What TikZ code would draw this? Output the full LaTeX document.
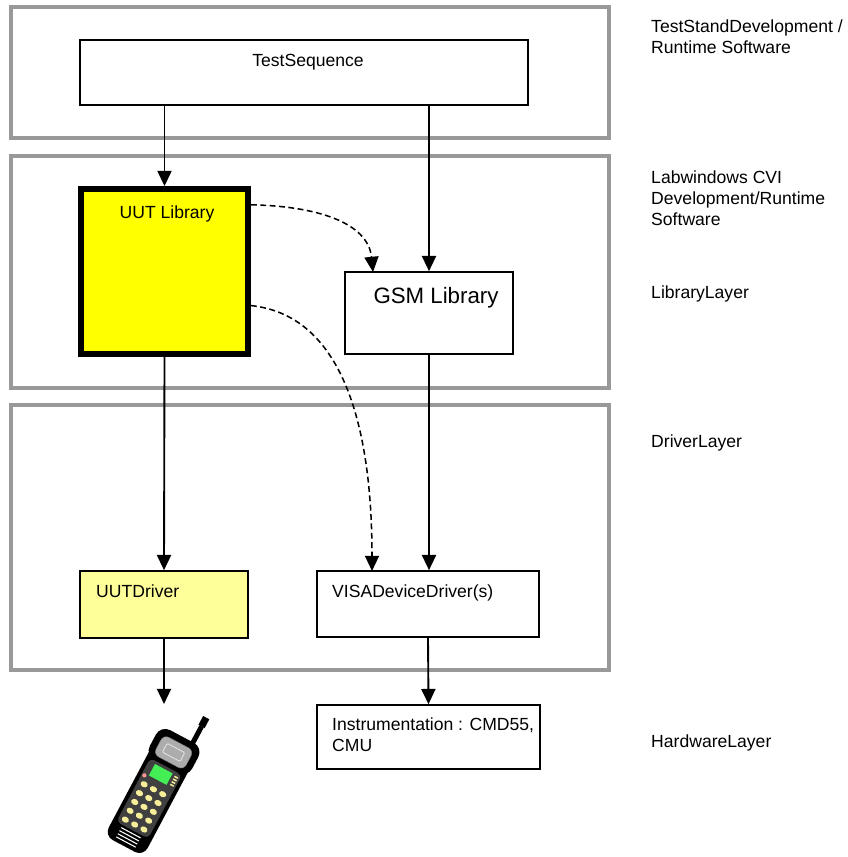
\documentclass[tikz,border=0pt]{standalone}
\usepackage{fontspec}
\setmainfont{Liberation Sans}
\usetikzlibrary{arrows.meta,positioning,fit}

\definecolor{framegray}{HTML}{999999}
\definecolor{libyellow}{HTML}{FFFF00}
\definecolor{drvyellow}{HTML}{FFFF99}
\definecolor{lcdgreen}{HTML}{44EE55}
\definecolor{keyyellow}{HTML}{F6EE99}

\begin{document}
\begin{tikzpicture}[
  x=0.3mm, y=-0.3mm,
  layer/.style={draw=framegray, line width=2.8pt, inner sep=0pt},
  box/.style={draw, line width=1.4pt, inner sep=0pt, fill=white},
  txt/.style={inner sep=0pt, font=\fontsize{15}{18}\selectfont, align=left},
  arr/.style={-{Triangle[length=13pt, width=12pt]}, line width=1.6pt},
  dsh/.style={arr, line width=1.3pt, dash pattern=on 5pt off 3pt}]
  \useasboundingbox (0,0) rectangle (847,857);

  % layer frames
  \node[layer, fit={(11,7) (609,138)}] (tslayer) {};
  \node[layer, fit={(11,156) (609,388)}] (liblayer) {};
  \node[layer, fit={(11,405) (609,670)}] (drvlayer) {};

  % software / driver boxes
  \node[box, fit={(80,40) (528,105)}] (tseq) {};
  \node[box, fit={(81,189) (248,354)}, fill=libyellow, line width=5pt] (uutlib) {};
  \node[box, fit={(345,272) (513,354)}] (gsm) {};
  \node[box, fit={(80,571) (248,638)}, fill=drvyellow] (uutdrv) {};
  \node[box, fit={(317,571) (539,637)}] (visa) {};
  \node[box, fit={(317,705) (540,769)}] (instr) {};

  \node[txt, anchor=base] (tseqlbl) at (308,67) {TestSequence};
  \node[txt, anchor=base] (uutliblbl) at (167,218) {UUT Library};
  \node[txt, anchor=base, font=\fontsize{19}{22}\selectfont] (gsmlbl) at (436,303) {GSM Library};
  \node[txt, anchor=base west] (uutdrvlbl) at (96,597) {UUTDriver};
  \node[txt, anchor=base west] (visalbl) at (332,597) {VISADeviceDriver(s)};
  \node[txt, anchor=north west] (instrlbl) at (332,717.5) {Instrumentation : CMD55,\\CMU};

  % layer names on the right
  \node[txt, anchor=north west] (tsname) at (651,19.5) {TestStandDevelopment /\\Runtime Software};
  \node[txt, anchor=north west] (cviname) at (651,170.5) {Labwindows CVI\\Development/Runtime\\Software};
  \node[txt, anchor=north west] (libname) at (651,285.5) {LibraryLayer};
  \node[txt, anchor=north west] (drvname) at (651,434.5) {DriverLayer};
  \node[txt, anchor=north west] (hwname) at (651,734.5) {HardwareLayer};

  % calls
  \coordinate (gsmin) at (373,272);
  \coordinate (visain) at (372,571);
  \coordinate (phonetop) at (164,704);
  \draw[arr] (tseq.south -| uutlib.north) -- (uutlib.north);
  \draw[arr] (tseq.south -| gsm.north) -- (gsm.north);
  \draw[arr] (uutlib.south) -- (uutdrv.north);
  \draw[arr] (gsm.south) -- (gsm.south |- visa.north);
  \draw[arr] (uutdrv.south) -- (phonetop);
  \draw[arr] (visa.south) -- (instr.north);
  \draw[dsh] ([yshift=-16pt]uutlib.north east) .. controls (315,206) and (368,222) .. (gsmin);
  \draw[dsh] ([yshift=-102pt]uutlib.north east) .. controls (340,315) and (372,420) .. (visain);

  % handset
  \begin{scope}[shift={(152,793)}, rotate=-28]
    \fill (10,-58) rectangle (15,-82);
    \fill (9,-82) rectangle (16,-92);
    \fill[black, rounded corners=8pt] (-22,-62) rectangle (22,60);
    \fill[black, rounded corners=9pt] (-24,-64) rectangle (24,-30);
    \filldraw[fill=gray!65, draw=black!50, rounded corners=5pt] (-17,-57) rectangle (17,-35);
    \draw[white!85!gray, line width=0.6pt, rounded corners=1pt] (-10,-51) rectangle (10,-41);
    \fill[black!75, rounded corners=4pt] (-18,-30) rectangle (18,42);
    \fill[lcdgreen] (-11,-27) rectangle (9,-14);
    \fill[red!40] (-15,-12) circle[radius=1.8pt];
    \foreach \i in {0,...,3}
      \fill[keyyellow] (12,{-26+3*\i}) rectangle (16,{-24.5+3*\i});
    \foreach \r in {0,...,4}
      \foreach \c in {0,1,2}
        \fill[keyyellow] ({-11+10.5*\c},{-4+10*\r}) ellipse [x radius=3.2pt, y radius=2.5pt];
    \foreach \i in {0,...,3}
      \draw[white, line width=0.9pt] (-11,{45+3.5*\i}) -- (11,{45+3.5*\i});
  \end{scope}
\end{tikzpicture}
\end{document}
